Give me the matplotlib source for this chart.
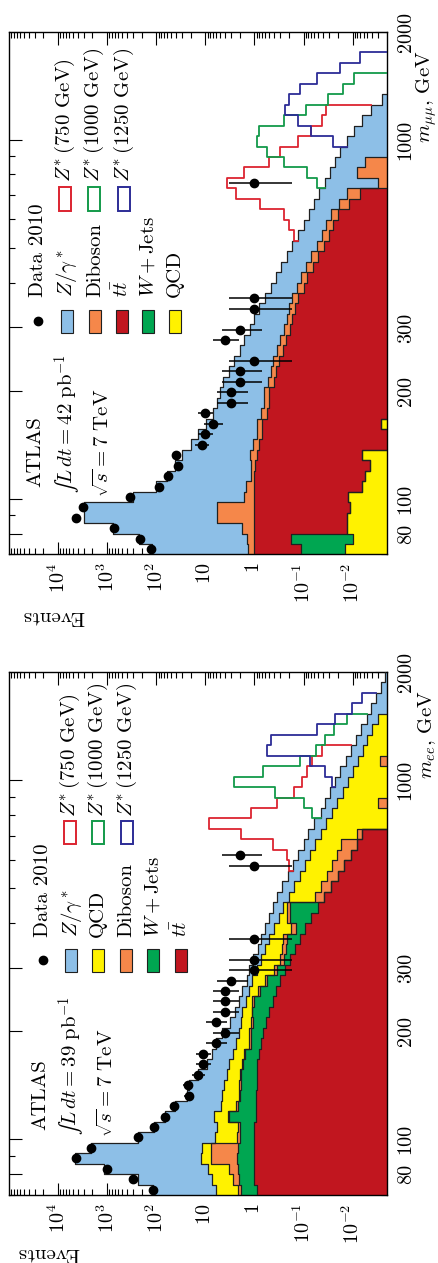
import numpy as np
import matplotlib
matplotlib.use('Agg')
import matplotlib.pyplot as plt
from matplotlib.patches import Rectangle
from matplotlib.lines import Line2D
from matplotlib.ticker import FixedLocator, FixedFormatter

plt.rcParams['font.family'] = ['cmr10', 'DejaVu Serif']
plt.rcParams['mathtext.fontset'] = 'cm'
plt.rcParams['axes.unicode_minus'] = False

# ---------------- binning ----------------
M_LO, M_HI, NBINS = 70.0, 2000.0, 50
edges = M_LO * (M_HI / M_LO) ** (np.arange(NBINS + 1) / NBINS)
centers = np.sqrt(edges[:-1] * edges[1:])

# ---------------- electron channel (39 pb-1) ----------------
data_ee = [119, 302, 1018, 4416, 2123, 239, 113, 66, 43, 22,
           23, 14, 11, 11, 6, 4, 6, 4, 4, 4,
           3, 1, 1, 0, 1, 0, 0, 0, 0, 0,
           0, 1, 2, 0, 0, 0, 0, 0, 0, 0,
           0, 0, 0, 0, 0, 0, 0, 0, 0, 0]
tt_ee = [0.9, 1.0, 1.0, 1.0, 1.0, 1.0, 1.0, 0.95, 0.95, 0.95,
         0.9, 0.9, 0.88, 0.82, 0.75, 0.68, 0.58, 0.5, 0.42, 0.36,
         0.3, 0.24, 0.19, 0.15, 0.12, 0.095, 0.07, 0.052, 0.038, 0.028,
         0.02, 0.015, 0.011, 0.008, 0.0065, 0, 0, 0, 0, 0,
         0, 0, 0, 0, 0, 0, 0, 0, 0, 0]
wj_ee = [1.0, 1.1, 1.2, 1.3, 1.2, 1.0, 1.0, 2.3, 1.2, 1.0,
         1.0, 1.0, 0.8, 0.75, 0.45, 0.5, 0.5, 0.6, 0.6, 0.4,
         0.25, 0.1, 0.06, 0.08, 0.1, 0.05, 0.12, 0.14, 0, 0,
         0, 0, 0, 0, 0, 0, 0, 0, 0, 0,
         0, 0, 0, 0, 0, 0, 0, 0, 0, 0]
db_ee = [0.3, 0.7, 1.1, 5.5, 5.6, 0.3, 0.2, 0.2, 0.2, 0.15,
         0.15, 0.1, 0.13, 0.1, 0.1, 0.1, 0.1, 0.05, 0.08, 0.07,
         0.06, 0.06, 0.05, 0.045, 0.04, 0.035, 0.03, 0.025, 0.02, 0.017,
         0.014, 0.012, 0.01, 0.009, 0.0017, 0.0015, 0.0015, 0.003, 0.0015, 0.0015,
         0.0015, 0.0028, 0, 0, 0, 0, 0, 0, 0, 0]
qcd_ee = [4.0, 4.4, 5.7, 4.7, 3.7, 4.2, 3.5, 3.25, 2.55, 2.4,
          2.15, 1.6, 1.49, 1.13, 1.1, 0.82, 0.72, 0.63, 0.4, 0.47,
          0.49, 0.5, 0.45, 0.345, 0.24, 0.22, 0.1, 0.043, 0.142, 0.115,
          0.086, 0.068, 0.054, 0.041, 0.037, 0.0335, 0.0255, 0.018, 0.0145, 0.011,
          0.0083, 0.005, 0.0062, 0.005, 0.004, 0.0031, 0, 0, 0, 0]
z_ee = [112.8, 232.8, 1131, 4587, 2113, 233.5, 104.3, 59.3, 37.1, 19.5,
        17.8, 10.4, 5.8, 4.4, 3.6, 2.4, 1.2, 0.72, 0.6, 0.5,
        0.3, 0.4, 0.3, 0.23, 0.22, 0.2, 0.18, 0.16, 0.14, 0.11,
        0.09, 0.07, 0.055, 0.042, 0.035, 0.025, 0.018, 0.015, 0.013, 0.0105,
        0.0082, 0.0062, 0.0048, 0.0035, 0.0028, 0.0021, 0.0042, 0.0033, 0.0027, 0.0022]
zp750_ee = [0] * 31 + [0.03, 0.087, 0.31, 1.77, 8.44, 1.155, 0.314, 0.131, 0.085,
                       0.067, 0.054, 0.031] + [0] * 7
zp1000_ee = [0] * 36 + [0.023, 0.064, 0.346, 2.6, 0.66, 0.106, 0.045, 0.0275, 0.0177,
                        0.0078] + [0] * 4
zp1250_ee = [0] * 39 + [0.004, 0.018, 0.059, 0.54, 0.46, 0.047, 0.018, 0.0063,
                        0.0032] + [0] * 2

# ---------------- muon channel (42 pb-1) ----------------
data_mm = [128, 212, 714, 4300, 3126, 337, 89, 57, 36, 39,
           12, 10, 7, 10, 3, 3, 2, 2, 1, 0,
           4, 2, 0, 1, 1, 0, 0, 0, 0, 0,
           0, 0, 0, 0, 0, 1, 0, 0, 0, 0,
           0, 0, 0, 0, 0, 0, 0, 0, 0, 0]
qcd_mm = [0.0143, 0.0098, 0.0132, 0.0132, 0.0114, 0.0125, 0.0065, 0.0056, 0.0044, 0.0065,
          0, 0, 0.0026] + [0] * 37
wj_mm = [0.1, 0.17] + [0] * 48
tt_mm = [0.89, 0.82, 1.0, 1.0, 1.0, 1.0, 1.0, 1.0, 0.97, 0.9,
         0.82, 0.7, 0.7, 0.55, 0.5, 0.5, 0.4, 0.36, 0.32, 0.26,
         0.23, 0.19, 0.17, 0.15, 0.13, 0.1, 0.085, 0.065, 0.05, 0.038,
         0.03, 0.025, 0.02, 0.012, 0.007] + [0] * 15
db_mm = [0.35, 0.4, 0.78, 4.7, 4.7, 0.65, 0.5, 0.2, 0.22, 0.3,
         0.25, 0.2, 0.2, 0.17, 0.15, 0.13, 0.12, 0.1, 0.09, 0.08,
         0.07, 0.06, 0.05, 0.045, 0.04, 0.034, 0.028, 0.023, 0.019, 0.015,
         0.012, 0.01, 0.008, 0.007, 0.006, 0.003, 0.0083, 0.0056] + [0] * 12
z_mm = [118.6, 228.6, 768, 2894, 2894, 298, 98.5, 58.8, 40.8, 28.8,
        18.9, 13.1, 8.6, 6.3, 5.05, 4.37, 3.78, 2.84, 2.19, 1.66,
        1.3, 1.0, 0.78, 0.605, 0.43, 0.336, 0.257, 0.202, 0.151, 0.117,
        0.088, 0.065, 0.05, 0.043, 0.035, 0.033, 0.0207, 0.0174, 0.018, 0.013,
        0.0095, 0.0066, 0.0042, 0.0025, 0, 0, 0, 0, 0, 0]
zp750_mm = [0] * 30 + [0.03, 0.1, 0.17, 0.7, 2.38, 3.56, 1.62, 0.49, 0.28, 0.117,
                       0.06, 0.036, 0.031] + [0] * 7
zp1000_mm = [0] * 35 + [0.018, 0.056, 0.227, 0.53, 0.867, 0.79, 0.243, 0.086, 0.03,
                        0.0154, 0.0096] + [0] * 4
zp1250_mm = [0] * 39 + [0.012, 0.06, 0.123, 0.231, 0.198, 0.117, 0.054, 0.018,
                        0.0071] + [0] * 2

# ---------------- styles ----------------
C_Z = '#8dbfe7'
C_QCD = '#fff200'
C_DB = '#f5874a'
C_W = '#00a651'
C_TT = '#c1161f'
C_S750 = '#dc2430'
C_S1000 = '#139a4a'
C_S1250 = '#2c2c96'
BASE = 1e-7

W_PX, H_PX = 439, 1263
fig = plt.figure(figsize=(W_PX / 100, H_PX / 100), dpi=100)

def fx(px):
    return px / W_PX

def fy(py):
    return 1 - py / H_PX


def garwood(n):
    n = np.asarray(n, float)
    lo = n - n * (1 - 1 / (9 * n) - 1 / (3 * np.sqrt(n))) ** 3
    m = n + 1
    hi = m * (1 - 1 / (9 * m) + 1 / (3 * np.sqrt(m))) ** 3 - n
    return lo, hi


def step_xy(vals):
    v = np.where(np.asarray(vals) > 0, vals, BASE)
    return np.repeat(v, 2), np.repeat(edges, 2)[1:-1]


def draw_panel(ax, stack, signals, data):
    cums = []
    cum = np.zeros(NBINS)
    for vals, col in stack:
        cum = cum + np.asarray(vals, float)
        cums.append((cum.copy(), col))
    total = cums[-1][0]
    for c, col in reversed(cums):
        X, Y = step_xy(c)
        ax.fill_betweenx(Y, X, BASE, color=col, lw=0, zorder=2)
    for c, col in reversed(cums):
        X, Y = step_xy(c)
        ax.plot(X, Y, color='#202020', lw=0.9, zorder=3)
    for sig, col in signals:
        sig = np.asarray(sig, float)
        nz = np.nonzero(sig)[0]
        i0, i1 = nz[0], nz[-1]
        tot = total + sig
        xs = [max(total[i0], BASE)]
        ys = [edges[i0]]
        for i in range(i0, i1 + 1):
            xs += [tot[i], tot[i]]
            ys += [edges[i], edges[i + 1]]
        xs.append(max(total[i1], BASE))
        ys.append(edges[i1 + 1])
        ax.plot(xs, ys, color=col, lw=1.3, zorder=4)
    d = np.asarray(data, float)
    m = d > 0
    lo, hi = garwood(d[m])
    ax.errorbar(d[m], centers[m], xerr=[lo, hi], fmt='o', color='k',
                ms=6, elinewidth=1.1, capsize=0, zorder=6)

    ax.set_xscale('log')
    ax.set_yscale('log')
    ax.set_xlim(1e5, 2e-3)
    ax.set_ylim(M_LO, M_HI)
    xmaj = [1e4, 1e3, 1e2, 1e1, 1, 1e-1, 1e-2]
    xlab = [r'$10^4$', r'$10^3$', r'$10^2$', r'$10$', r'$1$', r'$10^{-1}$', r'$10^{-2}$']
    ax.xaxis.set_major_locator(FixedLocator(xmaj))
    ax.xaxis.set_major_formatter(FixedFormatter(xlab))
    xmin = [k * 10.0 ** d for d in range(-3, 5) for k in range(2, 10)]
    xmin = [v for v in xmin if 2e-3 < v < 1e5]
    ax.xaxis.set_minor_locator(FixedLocator(xmin))
    ax.xaxis.set_minor_formatter(FixedFormatter([''] * len(xmin)))
    ymaj = [80, 100, 200, 300, 1000, 2000]
    ax.yaxis.set_major_locator(FixedLocator(ymaj))
    ax.yaxis.set_major_formatter(FixedFormatter(['80', '100', '200', '300', '1000', '2000']))
    ymin = [70, 90, 400, 500, 600, 700, 800, 900]
    ax.yaxis.set_minor_locator(FixedLocator(ymin))
    ax.yaxis.set_minor_formatter(FixedFormatter([''] * len(ymin)))
    ax.tick_params(which='both', direction='in', top=True, bottom=True,
                   left=True, right=True, labelleft=False, labelright=True,
                   labelsize=14.5, width=0.8)
    ax.tick_params(which='major', length=9)
    ax.tick_params(which='minor', length=4.5)
    ax.tick_params(axis='x', which='major', pad=6)
    ax.tick_params(axis='y', which='major', pad=7)
    for t in ax.get_xticklabels():
        t.set_rotation(90)
    for t in ax.get_yticklabels():
        t.set_rotation(90)
        t.set_verticalalignment('center')
    for s in ax.spines.values():
        s.set_linewidth(1.0)


def vtext(px, py, s, size=15, ha='left'):
    fig.text(fx(px), fy(py), s, rotation=90, rotation_mode='anchor',
             ha=ha, va='center', fontsize=size)


def box(px, py, col, filled=True):
    w, h = 12, 23
    if filled:
        r = Rectangle((fx(px - w / 2), fy(py + h / 2)), w / W_PX, h / H_PX,
                      transform=fig.transFigure, facecolor=col,
                      edgecolor='#202020', lw=0.8)
    else:
        r = Rectangle((fx(px - w / 2), fy(py + h / 2)), w / W_PX, h / H_PX,
                      transform=fig.transFigure, facecolor='white',
                      edgecolor=col, lw=1.4)
    fig.add_artist(r)


def dot(px, py):
    fig.add_artist(Line2D([fx(px)], [fy(py)], marker='o', color='k', ms=6,
                          transform=fig.transFigure))


# ---------------- electron panel (bottom) ----------------
ax_e = fig.add_axes([fx(9), fy(1195), 378 / W_PX, 523 / H_PX])
draw_panel(ax_e,
           [(tt_ee, C_TT), (wj_ee, C_W), (db_ee, C_DB), (qcd_ee, C_QCD), (z_ee, C_Z)],
           [(zp750_ee, C_S750), (zp1000_ee, C_S1000), (zp1250_ee, C_S1250)],
           data_ee)

# ---------------- muon panel (top) ----------------
ax_m = fig.add_axes([fx(9), fy(554.5), 378 / W_PX, 523 / H_PX])
draw_panel(ax_m,
           [(qcd_mm, C_QCD), (wj_mm, C_W), (tt_mm, C_TT), (db_mm, C_DB), (z_mm, C_Z)],
           [(zp750_mm, C_S750), (zp1000_mm, C_S1000), (zp1250_mm, C_S1250)],
           data_mm)

# ---------------- annotations: electron ----------------
vtext(40, 1130, 'ATLAS')
vtext(72, 1135, r'$∫L\, dt = 39\ \mathrm{pb}^{-1}$')
vtext(107, 1137, r'$\sqrt{s} = 7\ \mathrm{TeV}$')
leg_e = [(43, None, 'Data 2010'), (71, C_Z, r'$Z/\gamma^*$'), (98, C_QCD, 'QCD'),
         (126, C_DB, 'Diboson'), (153, C_W, r'$W + \mathrm{Jets}$'),
         (181, C_TT, r'$t\bar{t}$')]
for xp, col, lab in leg_e:
    if col is None:
        dot(xp, 960)
    else:
        box(xp, 960, col)
    vtext(xp, 937, lab)
for xp, col, lab in [(70, C_S750, '(750 GeV)'), (98, C_S1000, '(1000 GeV)'),
                     (127, C_S1250, '(1250 GeV)')]:
    box(xp, 832, col, filled=False)
    vtext(xp, 817, r'$Z^{*}\,$' + lab)
fig.text(fx(48), fy(1253), 'Events', rotation=180, ha='center', va='center', fontsize=15)
vtext(427, 690, r'$m_{ee}$, GeV', ha='right')

# ---------------- annotations: muon ----------------
vtext(35, 487, 'ATLAS')
vtext(68, 493, r'$∫L\, dt = 42\ \mathrm{pb}^{-1}$')
vtext(103, 497, r'$\sqrt{s} = 7\ \mathrm{TeV}$')
leg_m = [(38, None, 'Data 2010'), (67, C_Z, r'$Z/\gamma^*$'), (95, C_DB, 'Diboson'),
         (122, C_TT, r'$t\bar{t}$'), (148, C_W, r'$W + \mathrm{Jets}$'),
         (175, C_QCD, 'QCD')]
for xp, col, lab in leg_m:
    if col is None:
        dot(xp, 321)
    else:
        box(xp, 321, col)
    vtext(xp, 297, lab)
for xp, col, lab in [(65, C_S750, '(750 GeV)'), (94, C_S1000, '(1000 GeV)'),
                     (124, C_S1250, '(1250 GeV)')]:
    box(xp, 199, col, filled=False)
    vtext(xp, 182, r'$Z^{*}\,$' + lab)
fig.text(fx(53), fy(616), 'Events', rotation=180, ha='center', va='center', fontsize=15)
vtext(427, 50, r'$m_{\mu\mu}$, GeV', ha='right')

fig.savefig('out.png', dpi=100)
